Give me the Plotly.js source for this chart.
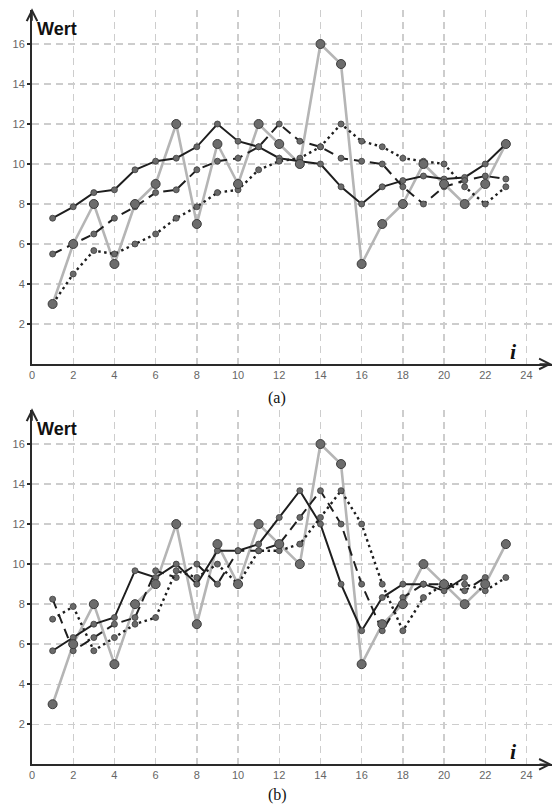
<!DOCTYPE html>
<html>
<head>
<meta charset="utf-8">
<script src="https://cdn.plot.ly/plotly-3.0.1.min.js"></script>
<style>html,body{margin:0;padding:0;background:#fff;}#chart{width:553px;height:809px;}</style>
</head>
<body>
<div id="chart"></div>
<script>
// index i
const idx = [1,2,3,4,5,6,7,8,9,10,11,12,13,14,15,16,17,18,19,20,21,22,23];
// raw values (gray)
const rawValues = [3,6,8,5,8,9,12,7,11,9,12,11,10,16,15,5,7,8,10,9,8,9,11];

// chart (a)
const aSolid  = [7.29,7.86,8.57,8.71,9.71,10.14,10.29,10.86,12.0,11.14,10.86,10.29,10.14,10.0,8.86,8.0,8.86,9.17,9.4,9.25,9.33,10.0,11.0];
const aDashed = [5.5,6.0,6.5,7.29,7.86,8.57,8.71,9.71,10.14,10.29,10.86,12.0,11.14,10.86,10.29,10.14,10.0,8.86,8.0,8.86,9.17,9.4,9.25];
const aDotted = [3.0,4.5,5.67,5.5,6.0,6.5,7.29,7.86,8.57,8.71,9.71,10.14,10.29,10.86,12.0,11.14,10.86,10.29,10.14,10.0,8.86,8.0,8.86];

// chart (b)
const bSolidIdx  = [1,2,3,4,5,6,7,8,9,10,11,12,13,14,15,16,17,18,19,20,21];
const bSolid     = [5.67,6.33,7.0,7.33,9.67,9.33,10.0,9.0,10.67,10.67,11.0,12.33,13.67,12.0,9.0,6.67,8.33,9.0,9.0,8.67,9.33];
const bDashedIdx = [1,2,3,4,5,6,7,8,9,10,11,12,13,14,15,16,17,18,19,20,21,22];
const bDashed    = [8.25,5.67,6.33,7.0,7.33,9.67,9.33,10.0,9.0,10.67,10.67,11.0,12.33,13.67,12.0,9.0,6.67,8.33,9.0,9.0,8.67,9.33];
const bDottedIdx = [1,2,3,4,5,6,7,8,9,10,11,12,13,14,15,16,17,18,19,20,21,22,23];
const bDotted    = [7.25,7.88,5.67,6.33,7.0,7.33,9.67,9.33,10.0,9.0,10.67,10.67,11.0,12.33,13.67,12.0,9.0,6.67,8.33,9.0,9.0,8.67,9.33];

// ticks
const xTicks = [0,2,4,6,8,10,12,14,16,18,20,22,24];
const yTicks = [2,4,6,8,10,12,14,16];
const yLabel = 'Wert';
const xLabel = 'i';
const captions = ['(a)','(b)'];

const grayLine = '#b5b5b5';
const darkLine = '#1e1e1e';
const rawMarker = {size:9, color:'#6c6c6c', line:{width:1, color:'#3c3c3c'}};
const smallMarker = {size:6, color:'#6a6a6a', line:{width:0.8, color:'#3c3c3c'}};

function panel(xa, ya, sX, sY, dX, dY, tX, tY) {
  return [
    {x: idx, y: rawValues, xaxis: xa, yaxis: ya, mode: 'lines', line: {color: grayLine, width: 2.6}, hoverinfo:'skip'},
    {x: sX, y: sY, xaxis: xa, yaxis: ya, mode: 'lines+markers', line: {color: darkLine, width: 2}, marker: smallMarker},
    {x: dX, y: dY, xaxis: xa, yaxis: ya, mode: 'lines+markers', line: {color: darkLine, width: 2, dash: '10px,6px'}, marker: smallMarker},
    {x: tX, y: tY, xaxis: xa, yaxis: ya, mode: 'lines+markers', line: {color: darkLine, width: 2.4, dash: '2.5px,3.5px'}, marker: smallMarker},
    {x: idx, y: rawValues, xaxis: xa, yaxis: ya, mode: 'markers', marker: rawMarker}
  ];
}

const data = [].concat(
  panel('x', 'y', idx, aSolid, idx, aDashed, idx, aDotted),
  panel('x2', 'y2', bSolidIdx, bSolid, bDashedIdx, bDashed, bDottedIdx, bDotted)
);

const tickFont = {family: 'Liberation Sans, Arial, sans-serif', size: 11, color: '#666'};
function xAxis(anchor) {
  return {domain: [0.0579, 0.9982], range: [0, 25.24], anchor: anchor,
    tickvals: xTicks, ticks: '', showgrid: true, gridcolor: '#cdcdcd', gridwidth: 1.4, griddash: '7px,5px',
    showline: true, linecolor: '#2a2a2a', linewidth: 2, zeroline: false, tickfont: tickFont, fixedrange: true};
}
function yAxis(anchor, dom) {
  return {domain: dom, range: [0, 17.7], anchor: anchor,
    tickvals: yTicks, ticks: 'outside', ticklen: 3, tickcolor: '#2a2a2a', tickwidth: 1.5,
    showgrid: true, gridcolor: '#cdcdcd', gridwidth: 1.4, griddash: '7px,5px',
    showline: true, linecolor: '#2a2a2a', linewidth: 2, zeroline: false, tickfont: tickFont, fixedrange: true};
}

const annotations = [];
[['x','y'],['x2','y2']].forEach(function(p){
  annotations.push({xref: p[0] + ' domain', yref: p[1] + ' domain', x: 0.006, y: 0.945, xanchor: 'left', yanchor: 'middle',
    text: '<b>' + yLabel + '</b>', showarrow: false, font: {family: 'Liberation Sans, Arial, sans-serif', size: 18, color: '#111'}});
  annotations.push({xref: p[0] + ' domain', yref: p[1] + ' domain', x: 0.925, y: 0.035, xanchor: 'center', yanchor: 'middle',
    text: '<b><i>' + xLabel + '</i></b>', showarrow: false, font: {family: 'Liberation Serif, Times New Roman, serif', size: 22, color: '#111'}});
  annotations.push({xref: p[0] + ' domain', yref: p[1] + ' domain', x: 1, y: 0, ax: -14, ay: 0, text: '',
    showarrow: true, arrowhead: 5, arrowsize: 1.3, arrowwidth: 1.6, arrowcolor: '#2a2a2a'});
  annotations.push({xref: p[0] + ' domain', yref: p[1] + ' domain', x: 0, y: 1.005, ax: 0, ay: 14, text: '',
    showarrow: true, arrowhead: 5, arrowsize: 1.3, arrowwidth: 1.6, arrowcolor: '#2a2a2a'});
});
annotations.push({xref: 'paper', yref: 'paper', x: 0.501, y: 0.508, xanchor: 'center', yanchor: 'middle', text: captions[0], showarrow: false,
  font: {family: 'Liberation Serif, Times New Roman, serif', size: 16, color: '#111'}});
annotations.push({xref: 'paper', yref: 'paper', x: 0.501, y: 0.0173, xanchor: 'center', yanchor: 'middle', text: captions[1], showarrow: false,
  font: {family: 'Liberation Serif, Times New Roman, serif', size: 16, color: '#111'}});

const layout = {
  width: 553, height: 809, margin: {l: 0, r: 0, t: 0, b: 0},
  paper_bgcolor: '#fff', plot_bgcolor: '#fff', showlegend: false,
  xaxis: xAxis('y'), yaxis: yAxis('x', [0.5501, 0.9876]),
  xaxis2: xAxis('y2'), yaxis2: yAxis('x2', [0.0553, 0.4932]),
  annotations: annotations
};

Plotly.newPlot('chart', data, layout, {displayModeBar: false, staticPlot: true});
</script>
</body>
</html>
